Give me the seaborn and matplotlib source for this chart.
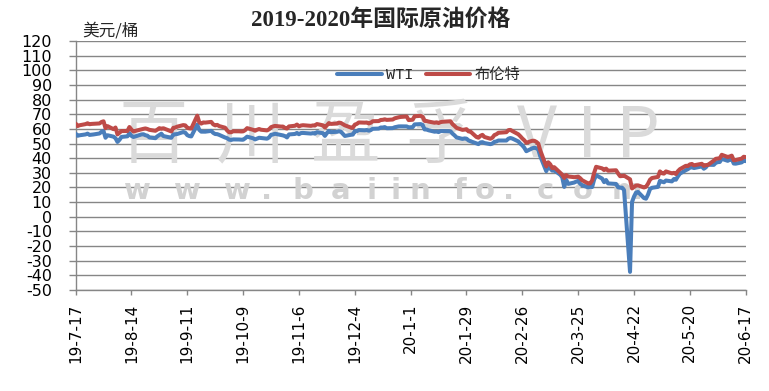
import matplotlib
matplotlib.use("Agg")
import matplotlib.pyplot as plt
from matplotlib.font_manager import FontProperties
import pandas as pd
import seaborn as sns

# ---------------- data ----------------
start_date = "2019-07-17"
end_date = "2020-06-17"
us_holidays = ["2019-09-02", "2019-11-28", "2019-12-25", "2020-01-01",
               "2020-01-20", "2020-02-17", "2020-04-10", "2020-05-25"]

wti = [
    # Jul 2019
    56.78, 55.30, 55.63, 56.22, 56.77, 55.88, 56.02, 56.20, 56.87, 58.05, 58.58,
    # Aug
    53.95, 55.66, 54.69, 53.63, 51.09, 52.54, 54.50, 54.93, 57.10, 55.23, 54.47,
    54.87, 56.21, 56.34, 55.68, 55.35, 54.17, 53.64, 54.93, 55.78, 56.71, 55.10,
    # Sep
    53.94, 56.26, 56.30, 56.52, 57.85, 57.40, 55.75, 55.09, 54.85, 62.90, 59.34,
    58.11, 58.13, 58.09, 58.64, 57.29, 56.49, 56.41, 55.91, 54.07,
    # Oct
    53.62, 52.64, 52.45, 52.81, 52.75, 52.63, 52.59, 53.55, 54.70, 53.59, 52.81,
    53.36, 53.93, 53.78, 53.31, 54.16, 55.97, 56.23, 56.66, 55.81, 55.54, 55.06, 54.18,
    # Nov
    56.20, 56.54, 57.23, 56.35, 57.15, 57.24, 56.86, 56.80, 57.12, 56.77, 57.72,
    57.05, 55.21, 57.11, 58.58, 57.77, 58.01, 58.41, 58.11, 55.17,
    # Dec
    55.96, 56.10, 58.43, 58.43, 59.20, 59.02, 59.24, 58.76, 59.18, 60.07, 60.21,
    60.94, 60.93, 61.22, 60.44, 60.52, 61.11, 61.68, 61.72, 61.68, 61.06,
    # Jan 2020
    61.18, 63.05, 63.27, 62.70, 59.61, 59.56, 59.04, 58.08, 58.23, 57.81, 58.52,
    58.54, 58.34, 56.74, 55.59, 54.19, 53.14, 53.48, 53.33, 52.14, 51.56,
    # Feb
    50.11, 49.61, 50.75, 50.95, 50.32, 49.57, 49.94, 51.17, 51.42, 52.05, 52.05,
    53.29, 53.78, 53.38, 51.43, 49.90, 48.73, 47.09, 44.76,
    # Mar
    46.75, 47.18, 46.78, 45.90, 41.28, 31.13, 34.36, 32.98, 31.50, 31.73, 28.70,
    26.95, 20.37, 25.22, 22.43, 23.36, 24.01, 24.49, 22.60, 21.51, 20.09, 20.48,
    # Apr
    20.31, 25.32, 28.34, 26.08, 23.63, 25.09, 22.76, 22.41, 20.11, 19.87, 19.87,
    18.27, -37.63, 10.01, 13.78, 16.50, 16.94, 12.78, 12.34, 15.06, 18.84,
    # May
    19.78, 20.39, 24.56, 23.99, 23.55, 24.74, 24.14, 25.78, 25.29, 27.56, 29.43,
    31.82, 32.50, 33.49, 33.92, 33.25, 34.35, 32.81, 33.71, 35.49,
    # Jun
    35.44, 36.81, 37.29, 37.41, 39.55, 38.19, 38.94, 39.60, 36.34, 36.26, 37.12,
    38.38, 37.96,
]

brent = [
    # Jul 2019
    63.66, 61.93, 62.47, 63.26, 63.83, 63.18, 63.39, 63.46, 63.71, 64.72, 65.17,
    # Aug
    60.50, 61.89, 59.81, 60.94, 56.23, 57.38, 58.53, 58.57, 61.30, 59.48, 58.23,
    58.64, 59.74, 60.03, 60.30, 59.92, 59.34, 58.70, 59.51, 60.49, 60.08, 60.43,
    # Sep
    58.26, 60.70, 60.95, 61.54, 62.59, 62.38, 60.81, 60.38, 60.22, 69.02, 64.55,
    63.60, 64.40, 64.28, 64.77, 63.10, 62.39, 62.74, 61.91, 60.78,
    # Oct
    58.89, 57.69, 57.71, 58.37, 58.35, 58.24, 58.32, 59.10, 60.51, 59.35, 58.74,
    59.42, 59.91, 59.42, 58.96, 59.70, 61.17, 61.67, 62.02, 61.57, 61.59, 60.61, 60.23,
    # Nov
    61.69, 62.13, 62.96, 61.74, 62.29, 62.51, 62.18, 62.06, 62.37, 62.28, 63.30,
    62.44, 60.91, 62.40, 63.97, 63.39, 63.65, 64.27, 64.06, 62.43,
    # Dec
    60.92, 60.82, 62.90, 63.39, 64.39, 64.25, 64.34, 63.72, 64.20, 65.22, 65.34,
    66.10, 66.17, 66.54, 66.14, 66.39, 67.20, 67.92, 68.16, 68.44, 66.00,
    # Jan 2020
    66.25, 68.60, 68.91, 68.27, 65.44, 65.37, 64.98, 64.20, 64.49, 64.00, 64.62,
    64.85, 65.20, 63.21, 62.04, 60.69, 59.32, 59.51, 59.81, 58.29, 58.16,
    # Feb
    54.45, 53.96, 55.28, 55.93, 54.47, 53.27, 54.01, 55.79, 56.34, 57.32, 57.75,
    59.12, 59.31, 58.50, 56.30, 54.95, 53.43, 52.18, 50.52,
    # Mar
    51.90, 51.86, 51.13, 49.99, 45.27, 34.36, 37.22, 35.79, 33.22, 33.85, 30.05,
    28.73, 26.50, 28.47, 27.50, 27.03, 27.15, 27.39, 26.34, 24.93, 22.76, 22.74,
    # Apr
    24.74, 29.94, 34.11, 33.05, 31.87, 32.84, 31.48, 31.74, 29.60, 27.69, 27.82,
    28.08, 25.57, 19.33, 20.37, 21.33, 21.44, 19.99, 20.46, 22.54, 25.27,
    # May
    26.44, 27.20, 30.97, 29.72, 29.46, 30.97, 29.63, 29.98, 29.19, 31.13, 32.50,
    34.81, 34.65, 35.75, 36.06, 35.13, 36.17, 34.74, 35.29, 35.33,
    # Jun
    38.32, 39.57, 39.79, 39.99, 42.30, 40.80, 41.18, 41.73, 38.55, 38.73, 39.72,
    40.96, 40.71,
]

series_names = ["WTI", "布伦特"]
series_colors = ["#4A7EBB", "#BE4B48"]

tick_dates = ["2019-07-17", "2019-08-14", "2019-09-11", "2019-10-09", "2019-11-06",
              "2019-12-04", "2020-01-01", "2020-01-29", "2020-02-26", "2020-03-25",
              "2020-04-22", "2020-05-20", "2020-06-17"]
tick_labels = ["19-7-17", "19-8-14", "19-9-11", "19-10-9", "19-11-6", "19-12-4",
               "20-1-1", "20-1-29", "20-2-26", "20-3-25", "20-4-22", "20-5-20", "20-6-17"]
y_ticks = list(range(-50, 121, 10))

title = "2019-2020年国际原油价格"
unit_label = "美元/桶"
watermark_big = "百川盈孚 VIP"
watermark_small = "www.baiinfo.com"

# ---------------- build table ----------------
dates = pd.bdate_range(start_date, end_date, freq="C", holidays=us_holidays)
df = pd.DataFrame({"date": dates, series_names[0]: wti, series_names[1]: brent})
long = df.melt(id_vars="date", var_name="series", value_name="price")

# ---------------- style ----------------
sns.set_style("white")
plt.rcParams["font.family"] = ["DejaVu Sans", "Noto Sans CJK SC"]

W, H = 769, 391
fig = plt.figure(figsize=(W / 100, H / 100), dpi=100)
x0, x1, y0, y1 = 75.6, 745.7, 41, 290
ax = fig.add_axes([x0 / W, 1 - y1 / H, (x1 - x0) / W, (y1 - y0) / H])

grid_c = "#868686"

# watermark: above the grid, below the lines
wm_c = "#dadada"
big_chars = [c for c in watermark_big if c != " "]
for ch, cx in zip(big_chars, [153, 250, 345, 440, 537, 587, 638]):
    ax.text(cx / W, 1 - 137 / H, ch, fontsize=50, color=wm_c, ha="center",
            va="center", family=["Noto Sans CJK SC"], zorder=1.2,
            transform=fig.transFigure, clip_on=False)
small_x = [137, 187, 237, 267, 303, 341, 372, 396, 420, 460, 485, 509, 545, 583, 627]
ax.text(small_x[0] / W, 1 - 199 / H, "", transform=fig.transFigure)
for ch, cx in zip(watermark_small, small_x):
    ax.text(cx / W, 1 - 199 / H, ch, fontsize=21, color="#d2d2d2", ha="center",
            va="baseline", fontweight="bold", family=["DejaVu Sans"], zorder=1.2,
            transform=fig.transFigure, clip_on=False)

sns.lineplot(data=long, x="date", y="price", hue="series", hue_order=series_names,
             palette=dict(zip(series_names, series_colors)), linewidth=2.9,
             ax=ax, legend=False, zorder=3)

ax.set_ylim(-50, 120)
ax.set_yticks(y_ticks)
ax.set_yticklabels([str(v) for v in y_ticks])
tick_dt = pd.to_datetime(tick_dates)
ax.set_xlim(tick_dt[0], tick_dt[-1])
ax.set_xticks(tick_dt)
ax.set_xticklabels(tick_labels, rotation=90)
ax.set_xlabel("")
ax.set_ylabel("")

ax.grid(axis="y", color=grid_c, linewidth=1.0, zorder=0.5)
ax.grid(axis="x", visible=False)
ax.set_axisbelow(True)
for side in ["top", "right"]:
    ax.spines[side].set_visible(False)
for side in ["left", "bottom"]:
    ax.spines[side].set_color(grid_c)
    ax.spines[side].set_linewidth(1.0)

ax.tick_params(axis="y", length=5, width=1.0, color=grid_c, direction="out",
               pad=12, labelsize=11.5, labelcolor="black", left=True)
ax.tick_params(axis="x", length=3.6, width=1.0, color=grid_c, direction="out",
               pad=6, labelsize=11, labelcolor="black", bottom=True)

# legend
handles = ax.get_lines()[:2]
leg = fig.legend(handles, series_names, loc="center",
                 bbox_to_anchor=(429 / W, 1 - 75 / H), ncol=2, frameon=False,
                 handlelength=2.9, handletextpad=0.3, columnspacing=0.8,
                 prop=FontProperties(family=["Liberation Mono", "Noto Sans CJK SC"], size=11))

# title and unit label
fig.text(381 / W, 1 - 20 / H, title, ha="center", va="center", fontsize=16.5,
         fontweight="bold", family=["Liberation Serif", "Noto Sans CJK SC"])
fig.text(82 / W, 1 - 31 / H, unit_label, ha="left", va="center", fontsize=12,
         family=["Noto Sans CJK SC"])

fig.savefig("out.png", dpi=100)
